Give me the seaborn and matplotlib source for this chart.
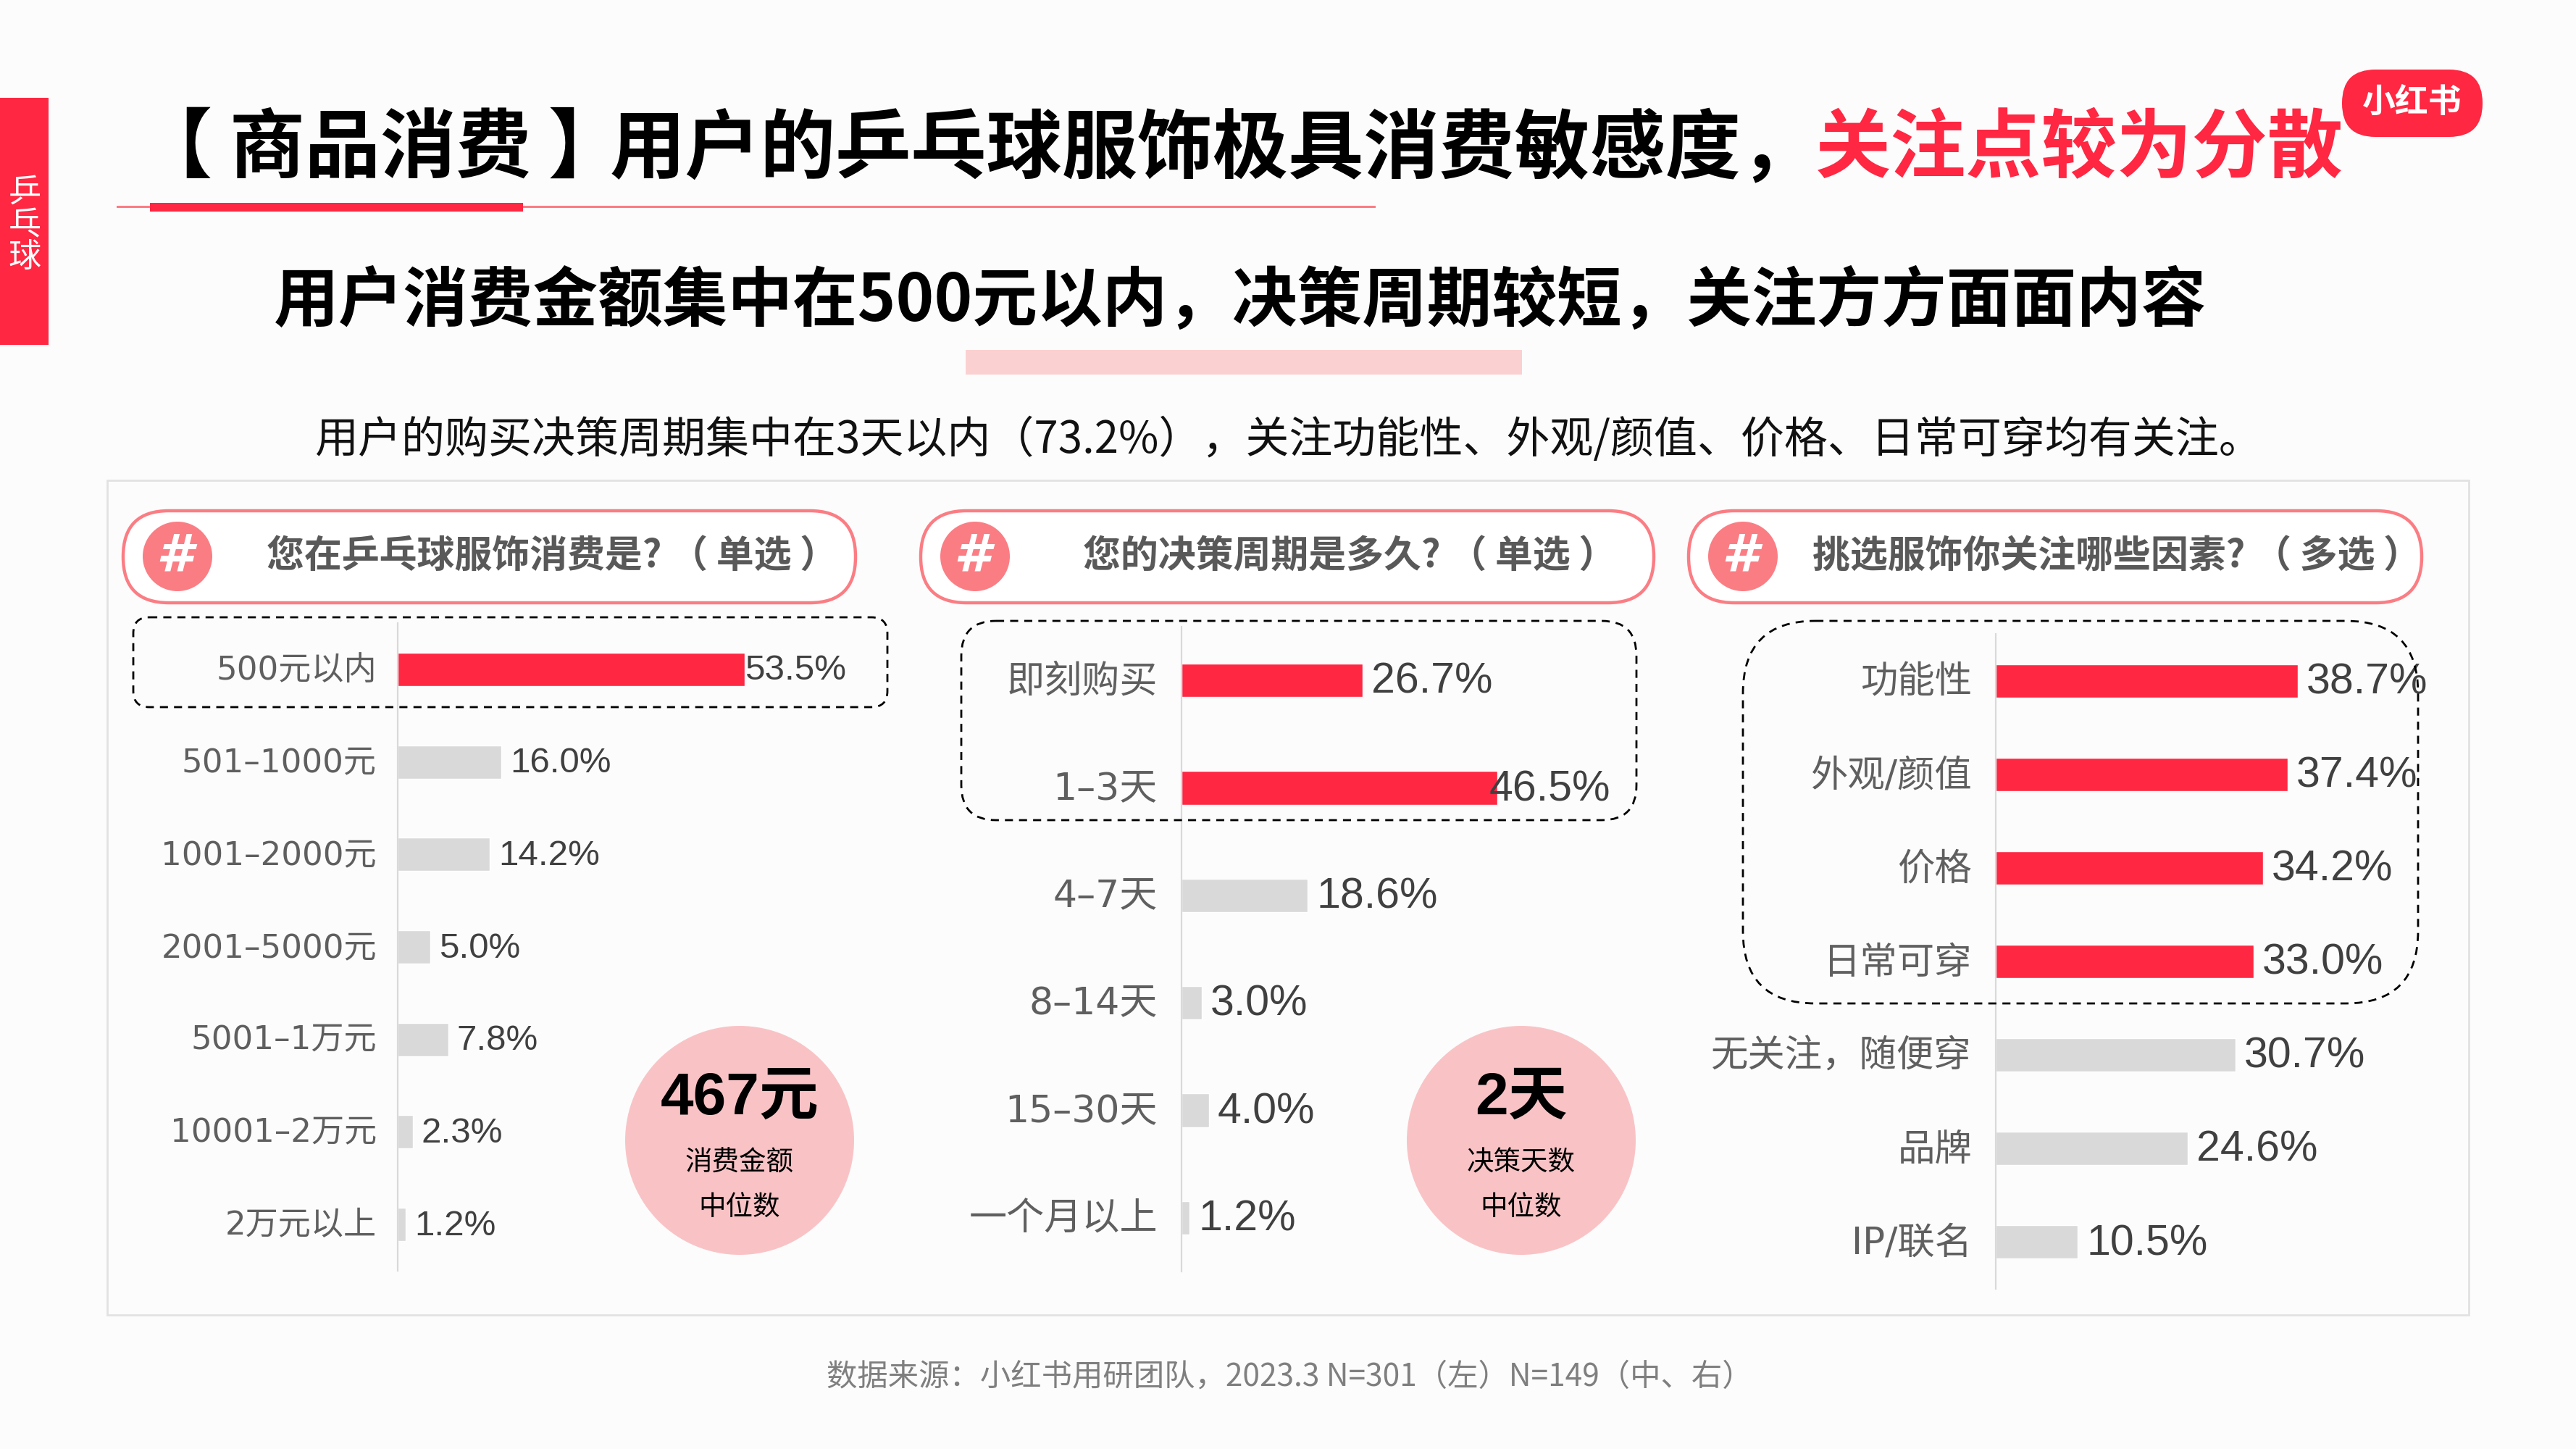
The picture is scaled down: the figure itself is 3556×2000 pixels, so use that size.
import matplotlib
matplotlib.use("Agg")
import matplotlib.pyplot as plt
import pandas as pd
import seaborn as sns
from matplotlib.patches import Circle, FancyBboxPatch, Rectangle
from matplotlib.transforms import ScaledTranslation

W, H = 3556, 2000
RED = "#FF2742"
GREY = "#D9D9D9"
PINK = "#F9C3C6"
SALMON = "#FB7D84"
BG = "#FCFCFC"
CJK = ["Noto Sans CJK SC", "DejaVu Sans"]
MIX = ["Liberation Sans", "Noto Sans CJK SC", "DejaVu Sans"]
TICK = ["DejaVu Sans", "Noto Sans CJK SC"]

# data
spend_labels = ["500元以内", "501–1000元", "1001–2000元", "2001–5000元", "5001–1万元", "10001–2万元", "2万元以上"]
spend_values = [53.5, 16.0, 14.2, 5.0, 7.8, 2.3, 1.2]
spend_top = 1

cycle_labels = ["即刻购买", "1–3天", "4–7天", "8–14天", "15–30天", "一个月以上"]
cycle_values = [26.7, 46.5, 18.6, 3.0, 4.0, 1.2]
cycle_top = 2

factor_labels = ["功能性", "外观/颜值", "价格", "日常可穿", "无关注，随便穿", "品牌", "IP/联名"]
factor_values = [38.7, 37.4, 34.2, 33.0, 30.7, 24.6, 10.5]
factor_top = 4

sns.set_theme(style="white")
plt.rcParams["font.family"] = MIX

fig = plt.figure(figsize=(W / 100, H / 100), dpi=100, facecolor=BG)

# whole-page layer in pixel coordinates
page = fig.add_axes([0, 0, 1, 1], zorder=0)
page.set_xlim(0, W)
page.set_ylim(H, 0)
page.axis("off")

# layer on top of the bars, for the dashed boxes
top = fig.add_axes([0, 0, 1, 1], zorder=5)
top.set_xlim(0, W)
top.set_ylim(H, 0)
top.axis("off")


def box(ax, x0, y0, x1, y1, r, **kw):
    p = FancyBboxPatch((x0 + r, y0 + r), x1 - x0 - 2 * r, y1 - y0 - 2 * r,
                       boxstyle=f"round,pad={r},rounding_size={r}", **kw)
    ax.add_patch(p)


def chart(labels, values, n_top, left, y0, y1, px_per_pct, bar_px, size, val_size, pad, tight):
    df = pd.DataFrame({"label": labels, "value": values})
    row = (y1 - y0) / len(labels)
    xmax = 60
    ax = fig.add_axes([left / W, 1 - y1 / H, xmax * px_per_pct / W, (y1 - y0) / H], zorder=2)
    ax.patch.set_alpha(0)
    colors = [RED] * n_top + [GREY] * (len(labels) - n_top)
    sns.barplot(data=df, y="label", x="value", hue="label", palette=colors, legend=False,
                width=bar_px / row, saturation=1, ax=ax)
    ax.set_xlim(0, xmax)
    ax.set_ylim(len(labels) - 0.5, -0.5)
    ax.set_xlabel("")
    ax.set_ylabel("")
    ax.xaxis.set_visible(False)
    sns.despine(ax=ax, top=True, right=True, bottom=True)
    ax.spines["left"].set_color("#D9D9D9")
    ax.spines["left"].set_linewidth(1.6)
    ax.tick_params(axis="y", length=0, pad=pad * 0.72)
    nudge = ScaledTranslation(0, 3 / 100, fig.dpi_scale_trans)
    for t in ax.get_yticklabels():
        t.set_fontsize(size)
        t.set_color("#5F5F5F")
        t.set_fontfamily(TICK)
        t.set_transform(t.get_transform() + nudge)
    for i, v in enumerate(values):
        off = tight.get(i, 12) * 0.72
        ax.annotate(f"{v:.1f}%", xy=(v, i), xytext=(off, -1.5), textcoords="offset points",
                    va="center", ha="left", fontsize=val_size, color="#404040", family=MIX)
    return ax


# left tab
page.add_patch(Rectangle((0, 135), 67, 341, color=RED, lw=0))
for ch, y in zip("乒乓球", [266, 311, 355]):
    page.text(34, y, ch, color="white", fontsize=32.5, ha="center", va="center", family=CJK)

# title
page.text(861, 206, "【 商品消费 】", fontsize=75, fontweight="bold", color="black", ha="right", va="center", family=CJK)
page.text(2508, 206, "用户的乒乓球服饰极具消费敏感度，", fontsize=75, fontweight="bold",
          color="black", ha="right", va="center", family=CJK)
page.text(2506, 206, "关注点较为分散", fontsize=75, fontweight="bold", color=RED, ha="left", va="center", family=CJK)
page.add_patch(Rectangle((161, 284), 1738, 2.5, color=SALMON, lw=0))
page.add_patch(Rectangle((207, 280), 515, 11.5, color=RED, lw=0))

# logo
box(page, 3233, 96, 3427, 189, 46, fc=RED, ec="none")
page.text(3330, 142, "小红书", color="white", fontsize=33, fontweight="bold", ha="center", va="center", family=CJK)

# subtitle
page.text(1712, 416, "用户消费金额集中在500元以内，决策周期较短，关注方方面面内容", fontsize=64.5, fontweight="bold",
          color="black", ha="center", va="center", family=CJK)
page.add_patch(Rectangle((1333, 483), 768, 34, color="#FBD0D0", lw=0))
page.text(1779, 608, "用户的购买决策周期集中在3天以内（73.2%），关注功能性、外观/颜值、价格、日常可穿均有关注。",
          fontsize=43.2, color="#111111", ha="center", va="center", family=CJK)

# panel
page.add_patch(Rectangle((148, 663), 3260, 1152, fc=BG, ec="#E2E2E2", lw=2))

# question pills
pills = [
    (170, 1181, 245, 368, "您在乒乓球服饰消费是? （ 单选 ）"),
    (1271, 2283, 1346, 1495, "您的决策周期是多久? （ 单选 ）"),
    (2331, 3343, 2406, 2502, "挑选服饰你关注哪些因素? （ 多选 ）"),
]
for x0, x1, cx, tx, q in pills:
    box(page, x0, 705, x1, 832, 63, fc="white", ec=SALMON, lw=3.2)
    page.add_patch(Circle((cx, 768), 48, fc=SALMON, ec="none"))
    page.text(cx - 5, 768, "#", color="white", fontsize=52, fontweight="bold", style="italic",
              ha="center", va="center", family="DejaVu Sans")
    page.text(tx, 767, q, color="#595959", fontsize=37.4, fontweight="bold", ha="left", va="center", family=CJK)

# bars
chart(spend_labels, spend_values, spend_top, 549, 860, 1754, 8.96, 46, 32.5, 35.5, 29, {0: 0})
chart(cycle_labels, cycle_values, cycle_top, 1631, 865, 1755, 9.38, 46.5, 37.5, 42.5, 33, {1: -12})
chart(factor_labels, factor_values, factor_top, 2755, 875, 1779, 10.78, 46, 37, 42.5, 33, {})

# dashed boxes
box(top, 184, 852, 1225, 976, 22, fc="none", ec="black", lw=2, ls=(0, (4, 3)))
box(top, 1327, 857, 2259, 1132, 48, fc="none", ec="black", lw=2, ls=(0, (4, 3)))
box(top, 2406, 857, 3338, 1385, 100, fc="none", ec="black", lw=2, ls=(0, (4, 3)))

# median circles
medians = [(1021, "467元", "消费金额"), (2100, "2天", "决策天数")]
for cx, big, small in medians:
    page.add_patch(Circle((cx, 1574), 158, fc=PINK, ec="none"))
    page.text(cx, 1517, big, fontsize=59, fontweight="bold", color="black", ha="center", va="center", family=MIX)
    page.text(cx, 1605, small, fontsize=27, fontweight="medium", color="black", ha="center", va="center", family=CJK)
    page.text(cx, 1667, "中位数", fontsize=27, fontweight="medium", color="black", ha="center", va="center", family=CJK)

# source line
page.text(1780, 1901, "数据来源：小红书用研团队，2023.3 N=301（左）N=149（中、右）", fontsize=30.5, color="#7F7F7F",
          ha="center", va="center", family=CJK)

fig.savefig("out.png", dpi=100, facecolor=BG)
